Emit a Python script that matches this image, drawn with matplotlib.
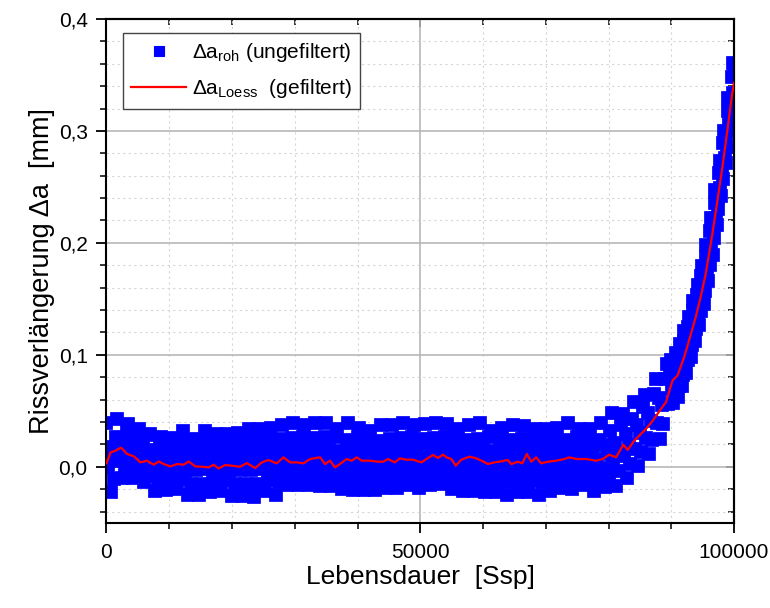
import numpy as np
import matplotlib
matplotlib.use("Agg")
import matplotlib.pyplot as plt
from matplotlib.ticker import MultipleLocator, FuncFormatter

plt.rcParams['font.family'] = ['Liberation Sans', 'DejaVu Sans']
plt.rcParams['mathtext.fontset'] = 'custom'
plt.rcParams['mathtext.rm'] = 'Liberation Sans'
plt.rcParams['mathtext.it'] = 'Liberation Sans:italic'
plt.rcParams['mathtext.bf'] = 'Liberation Sans:bold'

# ---------------- data ----------------
# raw crack extension (micrometres)
# part A: one sample every 250 load cycles, 0 ... 89750
raw_step_a = 250
raw_y_um_a = [
    39, 0, 18, -23, 9, -11, 27,
    43, 5, 23, -10, 14, -4, 32,
    38, 6, 22, -10, 13, -4, 31,
    34, 1, 19, -14, 10, -8, 28,
    29, -3, 15, -22, 6, -12, 24,
    27, -2, 14, -21, 5, -12, 23,
    26, -3, 15, -20, 6, -11, 23,
    32, -4, 15, -25, 6, -15, 24,
    25, -3, 14, -25, 5, -15, 22,
    32, -2, 15, -23, 7, -13, 24,
    29, -3, 16, -22, 6, -12, 24,
    29, -4, 15, -26, 5, -15, 23,
    30, -3, 14, -26, 6, -15, 24,
    34, -3, 15, -27, 6, -15, 25,
    34, -2, 16, -22, 7, -12, 24,
    35, -3, 15, -25, 6, -14, 25,
    37, -2, 16, -16, 7, -11, 26,
    39, -3, 15, -16, 6, -12, 27,
    37, -2, 15, -16, 7, -11, 26,
    39, -2, 16, -17, 6, -12, 27,
    39, -3, 15, -17, 6, -12, 27,
    34, -3, 14, -20, 5, -12, 24,
    39, -2, 16, -21, 7, -12, 27,
    35, -3, 15, -21, 6, -12, 24,
    32, -4, 14, -21, 5, -13, 23,
    37, -3, 15, -19, 6, -12, 25,
    37, -2, 16, -19, 7, -11, 26,
    39, -2, 16, -16, 6, -11, 27,
    37, -3, 15, -19, 6, -12, 25,
    38, -2, 15, -16, 7, -11, 26,
    39, -3, 16, -15, 6, -11, 27,
    38, -3, 15, -20, 6, -12, 26,
    34, -4, 14, -22, 5, -12, 24,
    37, -3, 15, -22, 6, -12, 25,
    39, -3, 16, -23, 6, -13, 27,
    32, -4, 14, -23, 5, -13, 23,
    35, -3, 15, -25, 6, -14, 24,
    37, -3, 15, -23, 6, -13, 25,
    36, -2, 16, -23, 7, -13, 24,
    34, -4, 14, -25, 5, -14, 23,
    34, -3, 15, -22, 6, -12, 24,
    35, -2, 15, -19, 6, -11, 24,
    39, -3, 16, -20, 6, -12, 27,
    34, -2, 15, -16, 7, -11, 24,
    34, -3, 15, -22, 6, -12, 24,
    39, -1, 19, -18, 11, -7, 32,
    48, 2, 21, -17, 13, -4, 37,
    47, 10, 29, -10, 19, 2, 43,
    58, 16, 37, 1, 30, 13, 53,
    64, 26, 48, 11, 41, 24, 65,
    78, 39, 61, 25, 55, 38, 78,
    92, 56, 81,
]
# part B: one sample every 100 load cycles, 90000 ... 100000
raw_start_b = 90000
raw_step_b = 100
raw_y_um_b = [
    95, 69, 86, 57, 79, 65, 94,
    102, 75, 90, 62, 84, 72, 101,
    110, 83, 100, 72, 95, 82, 112,
    121, 95, 111, 84, 107, 95, 125,
    134, 108, 125, 98, 121, 109, 139,
    148, 122, 139, 112, 135, 123, 153,
    162, 137, 154, 127, 151, 139, 170,
    179, 154, 171, 145, 168, 157, 187,
    198, 173, 192, 166, 190, 180, 211,
    222, 197, 215, 189, 214, 204, 236,
    247, 222, 241, 216, 241, 230, 262,
    273, 249, 267, 242, 267, 257, 289,
    300, 276, 295, 271, 296, 286, 318,
    329, 306, 325, 300, 326, 316, 348,
    361, 334, 356,
]
raw_x = np.concatenate([np.arange(len(raw_y_um_a)) * raw_step_a,
                        raw_start_b + np.arange(len(raw_y_um_b)) * raw_step_b])
raw_y = np.array(raw_y_um_a + raw_y_um_b) / 1000.0

# Loess-filtered curve
loess_x = [0, 640, 1430, 2330, 3290, 4350, 5400, 6470, 7520, 8320, 9120, 10180,
           11240, 12300, 13090, 14150, 15220, 16270, 17070, 17860, 18920, 19990,
           21300, 22370, 23690, 24760, 25800, 27140, 28190, 29260, 30320, 31380,
           32440, 34030, 34820, 35620, 36410, 37210, 38270, 39070, 39870, 40660,
           41980, 43300, 44090, 44880, 45940, 46740, 47800, 48850, 50190, 50990,
           52040, 52840, 53630, 54170, 54960, 55640, 56550, 57870, 58930, 59990,
           60780, 61850, 62910, 63960, 64500, 65550, 66250, 66990, 67690, 68480,
           69270, 70330, 71660, 72980, 73770, 74840, 76430, 78020, 79070, 80140,
           81200, 82360, 83050, 84100, 85960, 87030, 88360, 89150, 90200, 91000,
           92060, 92850, 93910, 94700, 95500, 96560, 97360, 98160, 98950, 99650,
           100000]
loess_y = [0.0030, 0.0128, 0.0143, 0.0170, 0.0114, 0.0093, 0.0039, 0.0054, 0.0018,
           0.0047, 0.0024, 0.0003, 0.0024, 0.0018, 0.0047, 0.0003, 0.0000, -0.0006,
           0.0018, -0.0015, 0.0015, 0.0009, 0.0000, 0.0033, -0.0012, 0.0039, 0.0060,
           0.0030, 0.0084, 0.0039, 0.0039, 0.0030, 0.0069, 0.0084, 0.0024, 0.0054,
           -0.0006, 0.0024, 0.0069, 0.0054, 0.0084, 0.0054, 0.0054, 0.0045, 0.0045,
           0.0069, 0.0039, 0.0075, 0.0063, 0.0063, 0.0039, 0.0069, 0.0105, 0.0078,
           0.0108, 0.0084, 0.0069, 0.0009, 0.0063, 0.0090, 0.0075, 0.0048, 0.0024,
           0.0039, 0.0048, 0.0060, 0.0024, 0.0045, 0.0030, 0.0114, 0.0045, 0.0084,
           0.0030, 0.0045, 0.0054, 0.0069, 0.0084, 0.0069, 0.0069, 0.0054, 0.0069,
           0.0108, 0.0084, 0.0197, 0.0150, 0.0233, 0.0337, 0.0410, 0.0516, 0.0576,
           0.0770, 0.0815, 0.0980, 0.1130, 0.1340, 0.1520, 0.1725, 0.2083, 0.2380,
           0.2680, 0.3010, 0.3310, 0.3430]

label_raw = r'$\Delta$a$_{\mathrm{roh}}$ (ungefiltert)'
label_loess = r'$\Delta$a$_{\mathrm{Loess}}$  (gefiltert)'
x_label = 'Lebensdauer  [Ssp]'
y_label = 'Rissverlängerung Δa  [mm]'
x_limits = (0, 100000)
y_limits = (-0.05, 0.4)

# ---------------- figure ----------------
W, H = 770, 608
fig = plt.figure(figsize=(W / 100, H / 100), dpi=100)
left, right, top, bottom = 106.5, 734.0, 19.0, 522.7
ax = fig.add_axes([left / W, (H - bottom) / H, (right - left) / W, (bottom - top) / H])

ax.plot(raw_x, raw_y, linestyle='none', marker='s', color='#0000ff',
        markersize=9.0, markeredgewidth=1.25, markeredgecolor='#0000ff',
        label=label_raw, zorder=2)
ax.plot(loess_x, loess_y, '-', color='#ff0000', linewidth=1.6,
        label=label_loess, zorder=3)

ax.set_xlim(*x_limits)
ax.set_ylim(*y_limits)

ax.xaxis.set_major_locator(MultipleLocator(50000))
ax.xaxis.set_minor_locator(MultipleLocator(10000))
ax.yaxis.set_major_locator(MultipleLocator(0.1))
ax.yaxis.set_minor_locator(MultipleLocator(0.02))
ax.xaxis.set_major_formatter(FuncFormatter(lambda v, p: f'{int(round(v))}'))
ax.yaxis.set_major_formatter(FuncFormatter(lambda v, p: f'{v:.1f}'.replace('.', ',').replace('-0,0', '0,0')))

ax.set_axisbelow(True)
ax.grid(which='major', color='#b8b8b8', linewidth=1.2, linestyle='-')
ax.grid(which='minor', color='#d6d6d6', linewidth=0.8, linestyle=(0, (2, 3)))

ax.tick_params(which='major', direction='out', length=7.5, width=1.3,
               labelsize=15, pad=6, colors='black')
ax.tick_params(which='minor', direction='out', length=4.5, width=1.1)
ax.tick_params(axis='x', which='major', pad=7)

for s in ax.spines.values():
    s.set_linewidth(1.5)
    s.set_color('black')

# mirrored inward ticks on top and right
secx = ax.secondary_xaxis('top')
secx.xaxis.set_major_locator(MultipleLocator(50000))
secx.xaxis.set_minor_locator(MultipleLocator(10000))
secx.tick_params(which='major', direction='in', length=6, width=1.3, labeltop=False)
secx.tick_params(which='minor', direction='in', length=4, width=1.1)
secx.spines['top'].set_linewidth(1.5)
secy = ax.secondary_yaxis('right')
secy.yaxis.set_major_locator(MultipleLocator(0.1))
secy.yaxis.set_minor_locator(MultipleLocator(0.02))
secy.tick_params(which='major', direction='in', length=6, width=1.3, labelright=False)
secy.tick_params(which='minor', direction='in', length=4, width=1.1)
secy.spines['right'].set_linewidth(1.5)

ax.set_xlabel(x_label, fontsize=19)
ax.set_ylabel(y_label, fontsize=19.5)
ax.xaxis.set_label_coords(0.5, -0.084)
ax.yaxis.set_label_coords(-0.082, 0.5)

leg = ax.legend(loc='upper left', bbox_to_anchor=(0.0265, 0.972), borderaxespad=0,
                fontsize=15, frameon=True, fancybox=False, framealpha=1,
                edgecolor='#444444', handlelength=2.6, handletextpad=0.3,
                borderpad=0.4, labelspacing=0.62, numpoints=1)
leg.get_frame().set_linewidth(1.0)
leg.legend_handles[0].set_markersize(7.8)
leg.legend_handles[0].set_markeredgewidth(0.8)

fig.savefig('out.png', dpi=100)
